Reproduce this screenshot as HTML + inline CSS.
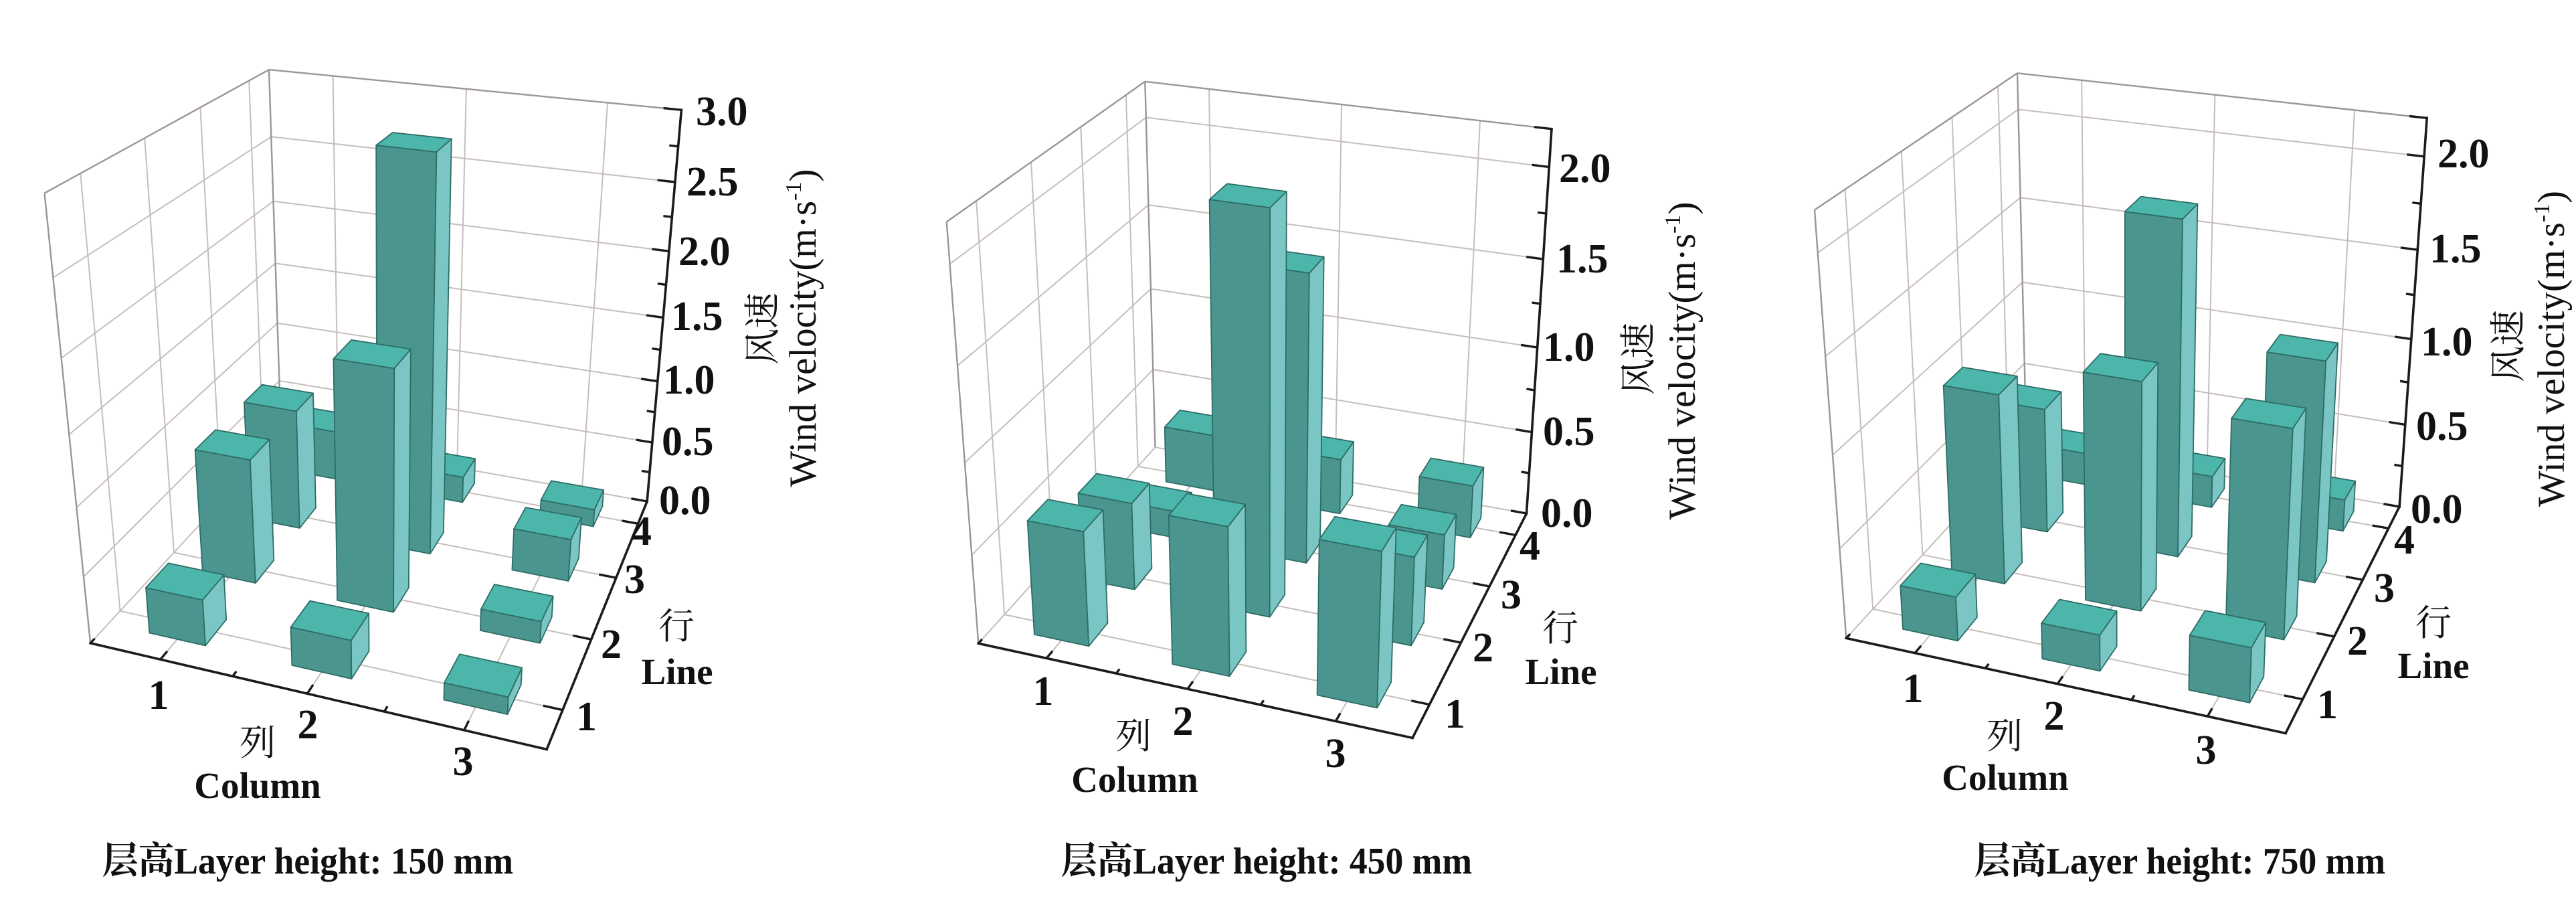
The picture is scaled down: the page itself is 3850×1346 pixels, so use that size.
<!DOCTYPE html>
<html><head><meta charset="utf-8"><style>
html,body{margin:0;padding:0;background:#fff;}
svg{display:block}
text{font-family:"Liberation Serif","Noto Serif CJK SC",serif;fill:#111;}
.tl{font-size:62px;font-weight:bold}
.at{font-size:55px;font-weight:bold}
.cj{font-size:54px;font-family:"Liberation Serif","Noto Serif CJK SC",serif;}
.wv{font-size:57px}
.cap{font-size:56px;font-weight:bold}
.gr{stroke:#c7bdbd;stroke-width:2;fill:none}
.ed{stroke:#9d9595;stroke-width:2.4;fill:none}
.ax{stroke:#1b1b1b;stroke-width:3.6;fill:none;stroke-linecap:square}
.tk{stroke:#1b1b1b;stroke-width:3.4}
.bf{fill:#4a968e}
.br{fill:#7ac6c4}
.bt{fill:#4db6ab}
.bf,.br,.bt{stroke:#2e6c66;stroke-width:1.8;stroke-linejoin:round}
</style></head><body>
<svg id="s" xmlns="http://www.w3.org/2000/svg" width="3850" height="1346" viewBox="0 0 3850 1346">
<rect width="3850" height="1346" fill="#fff"/>
<g id="p1"></g><g id="p2"></g><g id="p3"></g>

<!-- Panel 1 text -->
<text class="tl" x="1040" y="187">3.0</text>
<text class="tl" x="1026" y="292">2.5</text>
<text class="tl" x="1014" y="396">2.0</text>
<text class="tl" x="1003" y="493">1.5</text>
<text class="tl" x="991" y="588">1.0</text>
<text class="tl" x="989" y="680">0.5</text>
<text class="tl" x="985" y="768">0.0</text>
<text class="tl" x="943" y="814">4</text>
<text class="tl" x="933" y="886">3</text>
<text class="tl" x="898" y="983">2</text>
<text class="tl" x="861" y="1091">1</text>
<text class="tl" x="237" y="1059" text-anchor="middle">1</text>
<text class="tl" x="460" y="1103" text-anchor="middle">2</text>
<text class="tl" x="692" y="1158" text-anchor="middle">3</text>
<text class="cj" x="385" y="1128" text-anchor="middle">列</text>
<text class="at" x="385" y="1192" text-anchor="middle">Column</text>
<text class="cj" x="1011" y="954" text-anchor="middle">行</text>
<text class="at" x="1012" y="1022" text-anchor="middle">Line</text>
<text class="cj" text-anchor="middle" transform="translate(1158,491) rotate(-90)">风速</text>
<text class="wv" text-anchor="middle" textLength="475" lengthAdjust="spacingAndGlyphs" transform="translate(1219,490) rotate(-90)">Wind velocity(m·s<tspan font-size="34" dy="-22">-1</tspan><tspan dy="22">)</tspan></text>
<text class="cap" x="153" y="1305" textLength="614" lengthAdjust="spacingAndGlyphs">层高Layer height: 150 mm</text>

<!-- Panel 2 text -->
<text class="tl" x="2330" y="272">2.0</text>
<text class="tl" x="2326" y="407">1.5</text>
<text class="tl" x="2306" y="539">1.0</text>
<text class="tl" x="2306" y="665">0.5</text>
<text class="tl" x="2303" y="787">0.0</text>
<text class="tl" x="2271" y="836">4</text>
<text class="tl" x="2243" y="909">3</text>
<text class="tl" x="2201" y="988">2</text>
<text class="tl" x="2159" y="1087">1</text>
<text class="tl" x="1559" y="1053" text-anchor="middle">1</text>
<text class="tl" x="1768" y="1098" text-anchor="middle">2</text>
<text class="tl" x="1996" y="1146" text-anchor="middle">3</text>
<text class="cj" x="1694" y="1118" text-anchor="middle">列</text>
<text class="at" x="1696" y="1183" text-anchor="middle">Column</text>
<text class="cj" x="2332" y="957" text-anchor="middle">行</text>
<text class="at" x="2333" y="1022" text-anchor="middle">Line</text>
<text class="cj" text-anchor="middle" transform="translate(2467,536) rotate(-90)">风速</text>
<text class="wv" text-anchor="middle" textLength="475" lengthAdjust="spacingAndGlyphs" transform="translate(2533,539) rotate(-90)">Wind velocity(m·s<tspan font-size="34" dy="-22">-1</tspan><tspan dy="22">)</tspan></text>
<text class="cap" x="1586" y="1305" textLength="614" lengthAdjust="spacingAndGlyphs">层高Layer height: 450 mm</text>

<!-- Panel 3 text -->
<text class="tl" x="3643" y="250">2.0</text>
<text class="tl" x="3631" y="392">1.5</text>
<text class="tl" x="3618" y="531">1.0</text>
<text class="tl" x="3611" y="657">0.5</text>
<text class="tl" x="3603" y="781">0.0</text>
<text class="tl" x="3578" y="827">4</text>
<text class="tl" x="3548" y="899">3</text>
<text class="tl" x="3508" y="978">2</text>
<text class="tl" x="3463" y="1073">1</text>
<text class="tl" x="2859" y="1049" text-anchor="middle">1</text>
<text class="tl" x="3070" y="1090" text-anchor="middle">2</text>
<text class="tl" x="3297" y="1141" text-anchor="middle">3</text>
<text class="cj" x="2996" y="1118" text-anchor="middle">列</text>
<text class="at" x="2997" y="1180" text-anchor="middle">Column</text>
<text class="cj" x="3637" y="949" text-anchor="middle">行</text>
<text class="at" x="3637" y="1013" text-anchor="middle">Line</text>
<text class="cj" text-anchor="middle" transform="translate(3767,517) rotate(-90)">风速</text>
<text class="wv" text-anchor="middle" textLength="472" lengthAdjust="spacingAndGlyphs" transform="translate(3832,521) rotate(-90)">Wind velocity(m·s<tspan font-size="34" dy="-22">-1</tspan><tspan dy="22">)</tspan></text>
<text class="cap" x="2951" y="1305" textLength="614" lengthAdjust="spacingAndGlyphs">层高Layer height: 750 mm</text>
</svg>
<script>
(function(){
var NS='http://www.w3.org/2000/svg';
function solve(A,b){var n=b.length,i,r,c;for(i=0;i<n;i++){var p=i;for(r=i+1;r<n;r++)if(Math.abs(A[r][i])>Math.abs(A[p][i]))p=r;var t=A[i];A[i]=A[p];A[p]=t;t=b[i];b[i]=b[p];b[p]=t;for(r=i+1;r<n;r++){var f=A[r][i]/A[i][i];for(c=i;c<n;c++)A[r][c]-=f*A[i][c];b[r]-=f*b[i];}}var x=new Array(n);for(i=n-1;i>=0;i--){var s=b[i];for(c=i+1;c<n;c++)s-=A[i][c]*x[c];x[i]=s/A[i][i];}return x;}
function fit(pts,cx,cy){var S=500,N=[],r=[],i,j;for(i=0;i<11;i++){N.push([0,0,0,0,0,0,0,0,0,0,0]);r.push(0);}
 function add(row,val,w){for(var i=0;i<11;i++){r[i]+=w*row[i]*val;for(var j=0;j<11;j++)N[i][j]+=w*row[i]*row[j];}}
 pts.forEach(function(q,k){var X=q[0],Y=q[1],Z=q[2],u=(q[3]-cx)/S,v=(q[4]-cy)/S,w=k<6?3:1;
  add([X,Y,Z,1,0,0,0,0,-u*X,-u*Y,-u*Z],u,w);add([0,0,0,0,X,Y,Z,1,-v*X,-v*Y,-v*Z],v,w);});
 var p=solve(N,r);
 return function(X,Y,Z){var w=p[8]*X+p[9]*Y+p[10]*Z+1;return [cx+S*(p[0]*X+p[1]*Y+p[2]*Z+p[3])/w,cy+S*(p[4]*X+p[5]*Y+p[6]*Z+p[7])/w];};}
function el(tag,attrs,parent){var e=document.createElementNS(NS,tag);for(var k in attrs)e.setAttribute(k,attrs[k]);parent.appendChild(e);return e;}
function ln(g,P,a,b,cls){var p=P(a[0],a[1],a[2]),q=P(b[0],b[1],b[2]);el('line',{x1:p[0].toFixed(1),y1:p[1].toFixed(1),x2:q[0].toFixed(1),y2:q[1].toFixed(1),'class':cls},g);}
function poly(g,P,pts,cls){el('polygon',{points:pts.map(function(t){var q=P(t[0],t[1],t[2]);return q[0].toFixed(1)+','+q[1].toFixed(1);}).join(' '),'class':cls},g);}
function zFor(P,x,y,v){var lo=0,hi=4;for(var i=0;i<50;i++){var m=(lo+hi)/2;if(P(x,y,m)[1]>v)lo=m;else hi=m;}return (lo+hi)/2;}

var PANELS=[
{id:'p1',cx:550,zt:3,zmaj:[0.5,1,1.5,2,2.5,3],
 pts:[[0.5,0.5,0,135,961],[3.5,0.5,0,815,1120],[3.5,4.45,0,968,748],[0.5,0.5,3,67,287],[0.5,4.45,3,400,105],[3.5,4.45,3,1019,165],
 [3.5,4.45,0.5,976,659],[3.5,4.45,1,984,567],[3.5,4.45,1.5,992,472],[3.5,4.45,2,1001,375],[3.5,4.45,2.5,1010,273],
 [1,0.5,0,245,987],[2,0.5,0,458,1037],[3,0.5,0,697,1093],
 [3.5,1,0,840,1058],[3.5,2,0,882,955],[3.5,3,0,918,867],[3.5,4,0,952,783],
 [0.5,1,3,119,259],[0.5,2,3,217,205],[0.5,3,3,302,158],[0.5,4,3,372,120],
 [1,4.45,3,498,115],[2,4.45,3,695,134],[3,4.45,3,908,155]],
 bars:[[1,1,878,0],[1,2,672,0],[1,3,601,0],[1,4,642,0.7],[2,1,937,0],[2,2,536,0],[2,3,217,0],[2,4,713,1],[3,1,1020,0],[3,2,910,0],[3,3,790,0],[3,4,747,0]]},
{id:'p2',cx:1850,zt:2.2,zmaj:[0.5,1,1.5,2,2.2],
 pts:[[0.5,0.5,0,1462,961],[3.5,0.5,0,2108,1103],[3.5,4.45,0,2282,765],[0.5,0.5,2.2,1416,329],[0.5,4.45,2.2,1710,122],[3.5,4.45,2.2,2320,195],
 [3.5,4.45,0.5,2290,644],[3.5,4.45,1,2298,517],[3.5,4.45,1.5,2307,383],[3.5,4.45,2,2315,247],
 [1,0.5,0,1566,984],[2,0.5,0,1780,1031],[3,0.5,0,2001,1079],
 [3.5,1,0,2135,1050],[3.5,2,0,2183,961],[3.5,3,0,2225,880],[3.5,4,0,2264,802],
 [0.5,1,2.2,1457,300],[0.5,2,2.2,1540,243],[0.5,3,2.2,1615,190],[0.5,4,2.2,1681,145],
 [1,4.45,2.2,1810,133],[2,4.45,2.2,2005,156],[3,4.45,2.2,2212,181]],
 bars:[[1,1,778,0],[1,2,737,0],[1,3,760,0.7],[1,4,638,0],[2,1,770,0],[2,2,298,0],[2,3,408,1],[2,4,684,0.8],[3,1,806,0],[3,2,829,0.8],[3,3,796,0.8],[3,4,712,0]]},
{id:'p3',cx:3150,zt:2.2,zmaj:[0.5,1,1.5,2,2.2],
 pts:[[0.5,0.5,0,2759,953],[3.5,0.5,0,3414,1096],[3.5,4.45,0,3587,756],[0.5,0.5,2.2,2712,313],[0.5,4.45,2.2,3013,110],[3.5,4.45,2.2,3628,177],
 [3.5,4.45,0.5,3595,635],[3.5,4.45,1,3603,504],[3.5,4.45,1.5,3613,371],[3.5,4.45,2,3622,232],
 [1,0.5,0,2864,976],[2,0.5,0,3078,1023],[3,0.5,0,3302,1071],
 [3.5,1,0,3440,1045],[3.5,2,0,3488,950],[3.5,3,0,3531,866],[3.5,4,0,3569,792],
 [0.5,1,2.2,2757,283],[0.5,2,2.2,2843,225],[0.5,3,2.2,2920,173],[0.5,4,2.2,2985,129],
 [1,4.45,2.2,3110,121],[2,4.45,2.2,3317,143],[3,4.45,2.2,3517,166]],
 bars:[[1,1,875,0],[1,2,576,0],[1,3,600,0.1],[1,4,671,0.5],[2,1,931,0],[2,2,556,0],[2,3,316,0],[2,4,712,1],[3,1,949,0],[3,2,625,0],[3,3,526,0],[3,4,747,1]]}
];

PANELS.forEach(function(cfg){
 var P=fit(cfg.pts,cfg.cx,600),g=document.getElementById(cfg.id);
 var X0=0.5,X1=3.5,Y0=0.5,Y1=4.45,ZT=cfg.zt,i;
 var zs=cfg.zmaj;
 [1,2,3].forEach(function(x){ln(g,P,[x,Y1,0],[x,Y1,ZT],'gr');});
 zs.forEach(function(z){if(z<ZT)ln(g,P,[X0,Y1,z],[X1,Y1,z],'gr');});
 [1,2,3,4].forEach(function(y){ln(g,P,[X0,y,0],[X0,y,ZT],'gr');});
 zs.forEach(function(z){if(z<ZT)ln(g,P,[X0,Y0,z],[X0,Y1,z],'gr');});
 [1,2,3].forEach(function(x){ln(g,P,[x,Y0,0],[x,Y1,0],'gr');});
 [1,2,3,4].forEach(function(y){ln(g,P,[X0,y,0],[X1,y,0],'gr');});
 ln(g,P,[X0,Y0,0],[X0,Y1,0],'gr');ln(g,P,[X0,Y1,0],[X1,Y1,0],'gr');
 ln(g,P,[X0,Y0,0],[X0,Y0,ZT],'ed');ln(g,P,[X0,Y0,ZT],[X0,Y1,ZT],'ed');
 ln(g,P,[X0,Y1,ZT],[X1,Y1,ZT],'ed');ln(g,P,[X0,Y1,0],[X0,Y1,ZT],'ed');
 var H=0.2,D=0.2,map={};
 cfg.bars.forEach(function(b){var c=b[0],l=b[1];var xf=c-H+2*H*b[3];map[c+'_'+l]=zFor(P,xf,l-D,b[2]);});
 for(var l=4;l>=1;l--){for(var c=1;c<=3;c++){var z=map[c+'_'+l];if(!(z>0.005))continue;
  var x0=c-H,x1=c+H,y0=l-D,y1=l+D;
  poly(g,P,[[x0,y0,0],[x1,y0,0],[x1,y0,z],[x0,y0,z]],'bf');
  poly(g,P,[[x1,y0,0],[x1,y1,0],[x1,y1,z],[x1,y0,z]],'br');
  poly(g,P,[[x0,y0,z],[x1,y0,z],[x1,y1,z],[x0,y1,z]],'bt');}}
 ln(g,P,[X0,Y0,0],[X1,Y0,0],'ax');ln(g,P,[X1,Y0,0],[X1,Y1,0],'ax');ln(g,P,[X1,Y1,0],[X1,Y1,ZT],'ax');
 [1,2,3].forEach(function(x){ln(g,P,[x,Y0,0],[x,Y0+0.12,0],'tk');});
 [0.5,1.5,2.5].forEach(function(x){ln(g,P,[x,Y0,0],[x,Y0+0.07,0],'tk');});
 [1,2,3,4].forEach(function(y){ln(g,P,[X1,y,0],[X1-0.12,y,0],'tk');});
 ln(g,P,[X1,Y1,0],[X1-0.12,Y1,0],'tk');
 zs.forEach(function(z){ln(g,P,[X1,Y1,z],[X1-0.12,Y1,z],'tk');});
 for(var zz=0.25;zz<ZT;zz+=0.5){ln(g,P,[X1,Y1,zz],[X1-0.06,Y1,zz],'tk');}
});
})();
</script>
</body></html>
